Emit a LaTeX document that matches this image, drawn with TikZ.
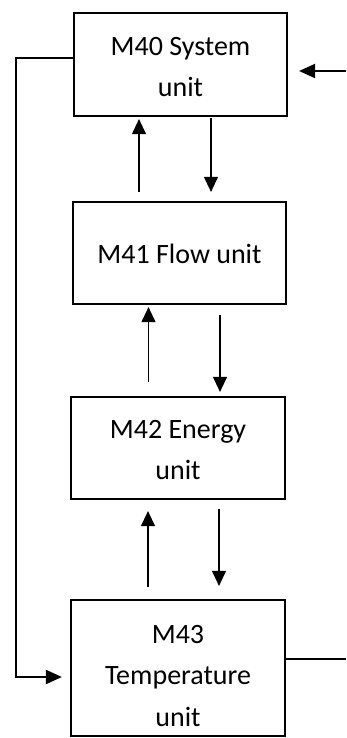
\documentclass[tikz,border=0pt]{standalone}
\usepackage{fontspec}
\setmainfont{Carlito}
\usetikzlibrary{arrows.meta}
\begin{document}
\begin{tikzpicture}[x=1pt,y=-1pt,
  unitbox/.style={draw,line width=2.2pt,minimum width=213pt,inner sep=0pt},
  unittext/.style={align=center,font=\fontsize{28pt}{41.5pt}\selectfont},
  thinarr/.style={line width=1.1pt,-{Triangle[length=15pt,width=14pt]}},
  looparr/.style={line width=2pt,-{Triangle[length=16pt,width=14pt]}},
  loopline/.style={line width=2pt}]
\useasboundingbox (0,0) rectangle (346,738);
\node[unitbox,minimum height=103pt,label={[name=T40,unittext,yshift=-2.5pt]center:{M40 System\\unit}}] (M40) at (180.5,64.5) {};
\node[unitbox,minimum height=102pt,label={[name=T41,unittext,yshift=-1pt]center:{M41 Flow unit}}] (M41) at (179.5,253) {};
\node[unitbox,minimum width=214pt,minimum height=102pt,label={[name=T42,unittext,yshift=-2pt]center:{M42 Energy\\unit}}] (M42) at (178,448) {};
\node[unitbox,minimum width=214pt,minimum height=136pt,label={[name=T43,unittext,yshift=-8pt]center:{M43\\Temperature\\unit}}] (M43) at (178,668) {};
% M40 <-> M41
\draw[thinarr,shorten <=9pt,shorten >=2pt] ([xshift=-41.5pt]M40.south |- M41.north) -- ([xshift=-41.5pt]M40.south);
\draw[thinarr,shorten <=1pt,shorten >=9pt] ([xshift=30.5pt]M40.south) -- ([xshift=30.5pt]M40.south |- M41.north);
% M41 <-> M42
\draw[thinarr,shorten <=14pt,shorten >=2pt] ([xshift=-31pt]M41.south |- M42.north) -- ([xshift=-31pt]M41.south);
\draw[thinarr,shorten <=10pt,shorten >=4pt] ([xshift=40.5pt]M41.south) -- ([xshift=40.5pt]M41.south |- M42.north);
% M42 <-> M43
\draw[thinarr,shorten <=12pt,shorten >=11pt] ([xshift=-30pt]M42.south |- M43.north) -- ([xshift=-30pt]M42.south);
\draw[thinarr,shorten <=9pt,shorten >=13pt] ([xshift=41pt]M42.south) -- ([xshift=41pt]M42.south |- M43.north);
% left loop
\coordinate (L) at (16,0);
\coordinate (a) at ([yshift=6.5pt]M40.west);
\coordinate (b) at ([yshift=-9pt]M43.west);
\draw[looparr,shorten >=8pt] (a) -- (a -| L) -- (b -| L) -- (b);
% right side
\coordinate (R1) at (346,71);
\coordinate (R2) at (346,659);
\draw[looparr,shorten >=11pt] (R1) -- (R1 -| M40.east);
\draw[loopline] (M43.east |- R2) -- (R2);
\end{tikzpicture}
\end{document}
